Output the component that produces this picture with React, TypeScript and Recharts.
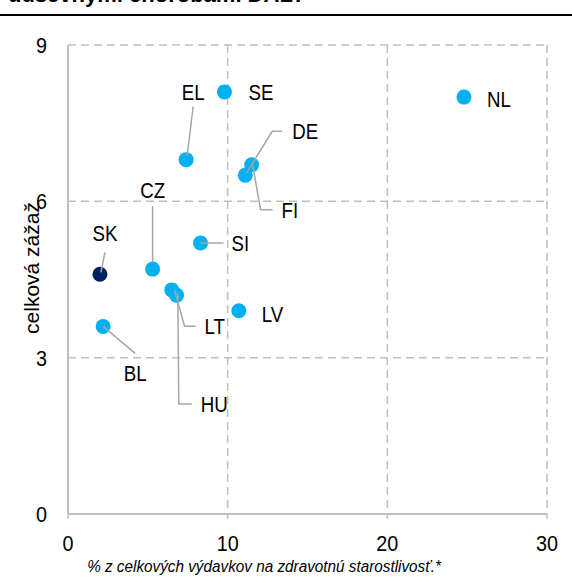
import React from "react";
import { ScatterChart, Scatter, XAxis, YAxis, CartesianGrid, Label } from "recharts";

const countries = ["SE", "EL", "DE", "FI", "NL", "SI", "SK", "CZ", "LT", "HU", "LV", "BL"];
const spending = [9.8, 7.4, 11.1, 11.5, 24.8, 8.3, 2.0, 5.3, 6.8, 6.5, 10.7, 2.2];
const burden = [8.1, 6.8, 6.5, 6.7, 8.0, 5.2, 4.6, 4.7, 4.2, 4.3, 3.9, 3.6];
const xTicks = [0, 10, 20, 30];
const yTicks = [0, 3, 6, 9];

const FONT = "'Liberation Sans', Arial, sans-serif";
const BLUE = "#00b0f0";
const NAVY = "#002060";
const GREY = "#bfbfbf";
const LEADER = "#a6a6a6";
const SQUEEZE = 0.85; // reference uses a narrow face

// label placement in px relative to the dot, plus leader polyline
type LabelPos = { dx: number; dy: number; anchor: "start" | "middle"; leader?: number[][] };
const labelPos: Record<string, LabelPos> = {
  SE: { dx: 24, dy: 0, anchor: "start" },
  EL: { dx: 7, dy: -68, anchor: "middle", leader: [[7, -53], [1, -4]] },
  DE: { dx: 47, dy: -44, anchor: "start", leader: [[37, -44], [27, -44], [1, -2]] },
  FI: { dx: 30, dy: 45, anchor: "start", leader: [[21, 45], [9, 45], [1, 0]] },
  NL: { dx: 23, dy: 2, anchor: "start" },
  SI: { dx: 31, dy: 0, anchor: "start", leader: [[0, 0], [23, 0]] },
  SK: { dx: 5, dy: -41, anchor: "middle", leader: [[5, -22], [1, -2]] },
  CZ: { dx: 0, dy: -79, anchor: "middle", leader: [[0, -63], [0, -7]] },
  LT: { dx: 28, dy: 31, anchor: "start", leader: [[-2, -5], [8, 31], [19, 31]] },
  HU: { dx: 29, dy: 114, anchor: "start", leader: [[6, 3], [7, 114], [20, 114]] },
  LV: { dx: 23, dy: 3, anchor: "start" },
  BL: { dx: 32, dy: 47, anchor: "middle", leader: [[0, 0], [32, 27]] },
};

const data = countries.map((name, i) => ({ name, x: spending[i], y: burden[i] }));

const NText = ({ x, y, anchor = "start", size = 22, italic = false, sx = SQUEEZE, dy = "0.36em", children }: any) => (
  <text
    transform={`translate(${x} ${y}) scale(${sx} 1)`}
    x={0}
    y={0}
    dy={dy}
    textAnchor={anchor}
    fontSize={size}
    fontStyle={italic ? "italic" : "normal"}
    fontFamily={FONT}
    fill="#000"
  >
    {children}
  </text>
);

const Dot = (props: any) => {
  const { cx, cy, payload } = props;
  return <circle cx={cx} cy={cy} r={7.5} fill={payload.name === "SK" ? NAVY : BLUE} />;
};

const CountryLabel = (props: any) => {
  const { cx, cy, payload } = props;
  const p = labelPos[payload.name];
  if (!p) return null;
  return (
    <g>
      {p.leader && (
        <polyline
          points={p.leader.map(([a, b]) => `${cx + a},${cy + b}`).join(" ")}
          fill="none"
          stroke={LEADER}
          strokeWidth={1.5}
        />
      )}
      <NText x={cx + p.dx} y={cy + p.dy} anchor={p.anchor}>
        {payload.name}
      </NText>
    </g>
  );
};

const XTick = (props: any) => {
  const { x, y, payload } = props;
  return (
    <NText x={x} y={y} anchor="middle" size={22} sx={0.9} dy="0.72em">
      {payload.value}
    </NText>
  );
};

const YTick = (props: any) => {
  const { x, y, payload } = props;
  return (
    <NText x={x} y={y} anchor="end" size={22} sx={0.9}>
      {payload.value}
    </NText>
  );
};

export default function App() {
  return (
    <div style={{ position: "absolute", left: 0, top: 0, width: 572, height: 581, overflow: "hidden", background: "#fff" }}>
      <div
        style={{
          position: "absolute",
          left: 8,
          top: -16,
          fontFamily: "'Liberation Sans', Arial, sans-serif",
          fontWeight: "bold",
          fontSize: 22,
          lineHeight: "22px",
          whiteSpace: "nowrap",
        }}
      >
        duševnými chorobami DALY
      </div>
      <div style={{ position: "absolute", left: 0, top: 14, width: 572, height: 2, background: "#000" }} />
      <ScatterChart width={572} height={581} margin={{ top: 45, right: 25, bottom: 37, left: 28 }}>
        <CartesianGrid stroke={GREY} strokeWidth={1.5} strokeDasharray="8 5" />
        <XAxis
          type="number"
          dataKey="x"
          domain={[0, 30]}
          ticks={xTicks}
          height={30}
          axisLine={{ stroke: GREY, strokeWidth: 2 }}
          tickLine={{ stroke: GREY, strokeWidth: 1.5 }}
          tickSize={5}
          tickMargin={16}
          tick={<XTick />}
        >
          <Label
            content={() => (
              <NText x={264} y={572} anchor="middle" size={17} italic sx={0.9} dy={0}>
                % z celkových výdavkov na zdravotnú starostlivosť.*
              </NText>
            )}
          />
        </XAxis>
        <YAxis
          type="number"
          dataKey="y"
          domain={[0, 9]}
          ticks={yTicks}
          width={40}
          axisLine={{ stroke: GREY, strokeWidth: 2 }}
          tickLine={false}
          tickSize={0}
          tickMargin={21}
          tick={<YTick />}
        >
          <Label
            content={() => (
              <text x={32} y={268} transform="rotate(-90 32 268)" textAnchor="middle" dy="0.35em" fontSize={21} fontFamily={FONT} fill="#000">
                celková zážaž
              </text>
            )}
          />
        </YAxis>
        <Scatter data={data} shape={<Dot />} isAnimationActive={false} />
        <Scatter data={data} shape={<CountryLabel />} isAnimationActive={false} />
      </ScatterChart>
    </div>
  );
}
